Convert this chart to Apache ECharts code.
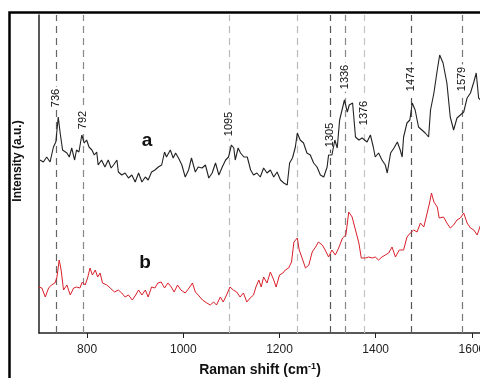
<!DOCTYPE html>
<html>
<head>
<meta charset="utf-8">
<script src="https://cdn.jsdelivr.net/npm/echarts@6/dist/echarts.min.js"></script>
<style>
  html, body { margin: 0; padding: 0; background: #fff; }
  #chart { width: 480px; height: 378px; }
</style>
</head>
<body>
<div id="chart"></div>
<script>
// Raman shift (cm-1) and intensity (a.u.)
var shiftA = [702,709,716,723,730,735,740,744,749,758,763,768,774,778,783,789,794,799,804,810,
  815,820,823,830,837,844,850,855,862,865,872,879,886,893,900,907,914,921,927,934,
  941,948,955,961,965,973,979,984,990,997,1004,1011,1017,1025,1031,1039,1046,1053,1060,1067,
  1074,1081,1088,1094,1100,1105,1108,1114,1119,1126,1133,1140,1146,1153,1160,1167,1174,1181,1188,1195,
  1202,1209,1216,1221,1227,1233,1237,1243,1250,1257,1264,1271,1278,1285,1292,1299,1302,1309,1315,1320,
  1325,1330,1335,1341,1345,1352,1358,1365,1372,1382,1389,1395,1399,1406,1413,1420,1424,1431,1438,1445,
  1451,1455,1458,1465,1471,1476,1482,1489,1496,1503,1510,1514,1521,1528,1533,1540,1548,1555,1562,1569,
  1576,1583,1590,1597,1604,1609,1614,1618];
var intensityA = [173,171,176,171,186,191,216,200,183,180,176,185,173,183,181,198,190,193,186,183,
  178,181,168,173,166,173,165,168,173,161,158,160,155,158,151,160,151,156,153,161,
  163,166,168,181,176,183,175,180,175,168,156,163,175,161,166,165,168,155,160,170,
  158,166,173,176,188,185,173,185,180,176,176,163,158,160,156,165,160,163,156,161,
  153,150,148,170,175,186,200,193,190,180,178,170,166,158,156,166,178,178,193,185,
  213,223,233,221,228,230,196,193,195,191,198,186,176,180,173,168,160,180,185,191,
  183,176,196,210,213,230,223,206,203,200,196,223,240,263,278,270,250,216,203,215,
  218,221,235,240,251,260,235,233];

var shiftB = [699,706,713,720,726,733,737,742,746,751,758,765,772,778,785,790,796,801,806,811,
  817,822,827,832,841,848,857,865,872,879,886,894,901,907,914,921,927,934,941,947,
  954,961,968,975,981,988,995,1004,1012,1019,1025,1031,1040,1049,1056,1063,1069,1077,1083,1090,
  1097,1104,1111,1118,1125,1132,1139,1146,1151,1157,1162,1167,1174,1181,1188,1193,1200,1207,1212,1219,
  1225,1230,1237,1241,1247,1254,1261,1268,1275,1281,1289,1295,1302,1309,1316,1323,1331,1338,1344,1351,
  1358,1365,1370,1379,1385,1393,1399,1406,1413,1420,1427,1434,1441,1449,1458,1465,1472,1479,1486,1493,
  1500,1507,1512,1516,1521,1528,1532,1541,1548,1555,1562,1569,1576,1583,1590,1597,1604,1611,1618];
var intensityB = [46,45,36,45,48,50,55,73,63,43,48,38,45,46,45,51,48,55,65,58,
  63,56,60,50,48,45,41,43,40,36,38,33,38,43,38,43,36,46,45,50,
  51,45,50,46,41,48,43,40,45,50,41,38,33,30,28,31,28,36,31,38,
  46,43,41,36,40,31,35,38,46,53,46,56,50,61,53,46,58,60,63,65,
  71,91,95,83,75,65,68,81,86,91,88,83,76,83,78,85,95,98,121,116,
  103,90,75,75,76,75,76,73,76,78,80,86,76,83,83,96,100,103,101,110,
  106,120,130,140,131,126,115,116,110,105,108,113,115,120,110,105,103,98,108];

// marked bands: position, label (empty = no label), height of label
var peaks = [736, 792, 1095, 1236, 1305, 1336, 1376, 1474, 1579];
var peakLabels = ['736', '792', '1095', '', '1305', '1336', '1376', '1474', '1579'];
var peakLabelLevel = [235, 213, 209, 0, 198, 256, 220, 254, 254];
var peakShade = ['#666', '#888', '#bbb', '#bbb', '#555', '#888', '#c4c4c4', '#555', '#777'];

var tickValues = [800, 1000, 1200, 1400, 1600];

function zip(xs, ys) {
  return xs.map(function (x, i) { return [x, ys[i]]; });
}

var myChart = echarts.init(document.getElementById('chart'));

var font = '"Liberation Sans", Arial, sans-serif';

myChart.setOption({
  animation: false,
  grid: { left: 39, width: 481, top: 15, bottom: 45, outerBoundsMode: 'none' },
  xAxis: {
    type: 'value',
    min: 700,
    max: 1700,
    axisLine: { lineStyle: { color: '#222', width: 1.5 } },
    axisTick: { customValues: tickValues, length: 5, lineStyle: { color: '#222' } },
    axisLabel: {
      customValues: tickValues, margin: 11, fontSize: 12, color: '#222', fontFamily: font,
      formatter: function (v) { return String(v); }
    },
    splitLine: { show: false }
  },
  yAxis: {
    type: 'value',
    min: 0,
    max: 318,
    axisLine: { show: true, lineStyle: { color: '#222', width: 1.5 } },
    axisTick: { show: false },
    axisLabel: { show: false },
    splitLine: { show: false }
  },
  graphic: [
    {
      type: 'rect',
      shape: { x: 9.5, y: 12.5, width: 520, height: 420 },
      style: { fill: 'none', stroke: '#000', lineWidth: 2.5 }
    },
    {
      type: 'text', x: 18, y: 161, rotation: Math.PI / 2,
      style: { text: 'Intensity (a.u.)', font: 'bold 12px ' + font, fill: '#111', align: 'center', verticalAlign: 'middle' }
    },
    {
      type: 'text', x: 260, y: 370,
      style: {
        text: 'Raman shift (cm{sup|-1}{p|)}',
        font: 'bold 14px ' + font, fill: '#111', align: 'center', verticalAlign: 'middle',
        rich: {
          sup: { font: 'bold 9px ' + font, fill: '#111', verticalAlign: 'top', padding: [0, 0, 6, 0] },
          p: { font: 'bold 14px ' + font, fill: '#111' }
        }
      }
    },
    {
      type: 'text', x: 147, y: 141,
      style: { text: 'a', font: 'bold 19px ' + font, fill: '#111', align: 'center', verticalAlign: 'middle' }
    },
    {
      type: 'text', x: 145, y: 263,
      style: { text: 'b', font: 'bold 19px ' + font, fill: '#111', align: 'center', verticalAlign: 'middle' }
    }
  ],
  series: [
    {
      type: 'line',
      data: [],
      z: 1,
      markLine: {
        silent: true,
        symbol: 'none',
        label: { show: false },
        data: peaks.map(function (p, i) {
          return { xAxis: p, lineStyle: { color: peakShade[i], width: 1.2, type: [7, 5] } };
        })
      }
    },
    {
      type: 'scatter',
      z: 5,
      silent: true,
      symbol: 'rect',
      symbolSize: function (v, p) { return [12, p.name.length * 6.3 + 4]; },
      itemStyle: { color: '#fff', opacity: 1 },
      data: peaks.map(function (p, i) {
        return { value: [p, peakLabelLevel[i]], name: peakLabels[i] };
      }).filter(function (d) { return d.name !== ''; }),
      label: {
        show: true,
        position: 'inside',
        rotate: 90,
        formatter: '{b}',
        fontSize: 11,
        color: '#111',
        fontFamily: font
      }
    },
    {
      name: 'a',
      type: 'line',
      data: zip(shiftA, intensityA),
      z: 6,
      showSymbol: false,
      lineStyle: { color: '#222', width: 1.1 }
    },
    {
      name: 'b',
      type: 'line',
      data: zip(shiftB, intensityB),
      z: 6,
      showSymbol: false,
      lineStyle: { color: '#d8202a', width: 1 }
    }
  ]
});
</script>
</body>
</html>
